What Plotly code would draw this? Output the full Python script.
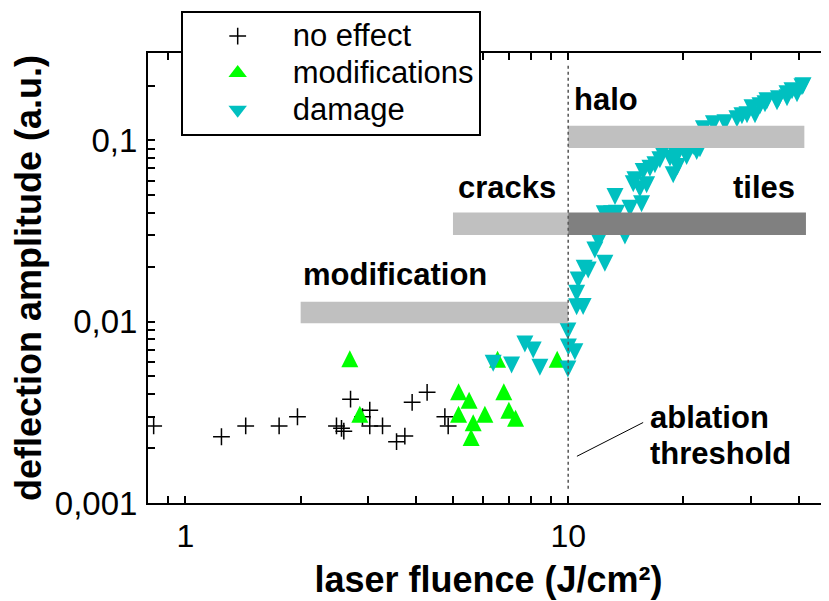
import math
import plotly.graph_objects as go

# ---------------- data ----------------
no_effect_x = [0.826, 1.242, 1.437, 1.757, 1.962, 2.481, 2.557, 2.593, 2.700, 2.901,
               3.031, 3.031, 3.273, 3.561, 3.743, 3.911, 4.280, 4.762, 4.858]
no_effect_y = [0.00266, 0.00232, 0.00266, 0.00266, 0.00299, 0.00266, 0.00258, 0.00249,
               0.00374, 0.00299, 0.00325, 0.00266, 0.00266, 0.00218, 0.00234, 0.00359,
               0.00408, 0.00299, 0.00266]

modif_x = [2.688, 2.855, 5.171, 5.511, 5.171, 5.646, 6.058, 5.578, 6.789, 6.998, 7.286, 6.539, 9.359]
modif_y = [0.00625, 0.00309, 0.00411, 0.00369, 0.00309, 0.00277, 0.00309, 0.00230,
           0.00411, 0.00325, 0.00293, 0.00620, 0.00620]

damage_x = [6.368, 7.114, 7.705, 8.100, 8.433, 9.98, 10.01, 10.41, 9.98, 10.52,
            10.94, 10.52, 10.62, 11.01, 11.28, 12.47, 11.74, 11.98, 12.23, 12.42,
            12.98, 13.38, 14.07, 14.50, 15.55, 13.25, 14.79, 15.39, 16.03, 14.94,
            15.70, 16.35, 16.85, 17.58, 18.45, 18.81, 19.29, 20.39, 21.66, 17.36,
            21.22, 21.87, 19.20,
            22.56, 23.96, 25.68, 27.60, 28.44, 30.21, 31.70, 33.06, 35.43, 37.29,
            38.43, 40.81,
            22.09, 29.32, 30.76, 32.67, 35.12, 37.29, 39.61, 41.06]
damage_y = [0.00589, 0.00577, 0.00753, 0.00698, 0.00560, 0.00888, 0.00725, 0.00683, 0.00548, 0.01210,
            0.01213, 0.01435, 0.01699, 0.01972, 0.01930, 0.02101, 0.02489, 0.02826, 0.03011, 0.03933,
            0.03933, 0.03968, 0.02973, 0.04229, 0.04467, 0.04900, 0.05759, 0.05405, 0.05686, 0.06058,
            0.06734, 0.07031, 0.07333, 0.08511, 0.07986, 0.06457, 0.07176, 0.08149, 0.08685, 0.07815,
            0.09254, 0.1008, 0.08149,
            0.1159, 0.1235, 0.1251, 0.1317, 0.1368, 0.1514, 0.1553, 0.1654, 0.1697, 0.1719,
            0.1878, 0.1977,
            0.0899, 0.1385, 0.1385, 0.1593, 0.1634, 0.1808, 0.1808, 0.2002]

# regime bands (fluence range, amplitude range)
band_names = ["modification", "cracks", "tiles", "halo"]
band_x0 = [2, 5, 10, 10]
band_x1 = [10, 10, 41.8, 41.4]
band_y0 = [0.0098, 0.0301, 0.0301, 0.0907]
band_y1 = [0.0129, 0.0400, 0.0400, 0.1204]

threshold_fluence = 10
threshold_span = [0.0012, 0.26]

x_tickvals = [0.9, 1, 2, 3, 4, 5, 6, 7, 8, 9, 10, 20, 30, 40]
x_ticktext = ["", "1", "", "", "", "", "", "", "", "", "10", "", "", ""]
y_tickvals = [0.001, 0.002, 0.003, 0.004, 0.005, 0.006, 0.007, 0.008, 0.009,
              0.01, 0.02, 0.03, 0.04, 0.05, 0.06, 0.07, 0.08, 0.09, 0.1, 0.2]
y_ticktext = ["0,001"] + [""] * 8 + ["0,01"] + [""] * 8 + ["0,1", ""]

series_names = ["no effect", "modifications", "damage"]

# ---------------- styles ----------------
FONT = "Liberation Sans, Arial, sans-serif"
band_colors = {"modification": "#c0c0c0", "cracks": "#c0c0c0", "tiles": "#808080", "halo": "#c0c0c0"}
GREEN = "#00ff00"
CYAN = "#00c0c0"
TRI = 17


def legend_label(s):
    return '<span style="font-size:31px">%s</span>' % s


fig = go.Figure()
fig.add_trace(go.Scatter(
    x=no_effect_x, y=no_effect_y, mode="markers", name=legend_label(series_names[0]),
    marker=dict(symbol="cross-thin", size=12, line=dict(color="black", width=1.5), color="black")))
fig.add_trace(go.Scatter(
    x=modif_x, y=modif_y, mode="markers", name=series_names[1], showlegend=False,
    marker=dict(symbol="arrow-down", angle=180, standoff=TRI / 2, size=TRI, color=GREEN,
                line=dict(width=0))))
fig.add_trace(go.Scatter(
    x=damage_x, y=damage_y, mode="markers", name=series_names[2], showlegend=False,
    marker=dict(symbol="arrow-down", standoff=TRI / 2, size=TRI, color=CYAN,
                line=dict(width=0))))
# legend entries for the triangle series
fig.add_trace(go.Scatter(x=[None], y=[None], mode="markers", name=legend_label(series_names[1]),
                         marker=dict(symbol="triangle-up", size=16, color=GREEN, line=dict(width=0))))
fig.add_trace(go.Scatter(x=[None], y=[None], mode="markers", name=legend_label(series_names[2]),
                         marker=dict(symbol="triangle-down", size=16, color=CYAN, line=dict(width=0))))

for name, x0, x1, y0, y1 in zip(band_names, band_x0, band_x1, band_y0, band_y1):
    fig.add_shape(type="rect", xref="x", yref="y", x0=x0, x1=x1, y0=y0, y1=y1,
                  fillcolor=band_colors[name], line=dict(width=0), layer="above")

fig.add_shape(type="line", xref="x", yref="y", x0=threshold_fluence, x1=threshold_fluence,
              y0=threshold_span[0], y1=threshold_span[1],
              line=dict(color="#555555", width=1.5, dash="dot"), layer="above")
# pointer for "ablation threshold"
fig.add_shape(type="line", xref="x", yref="y", x0=10.54, x1=15.7, y0=0.00181, y1=0.00278,
              line=dict(color="black", width=1), layer="above")

labels = [
    ("halo", 10.21, -0.776),
    ("cracks", 10 ** 0.707, -1.2617),
    ("tiles", 10 ** 1.425, -1.2617),
    ("modification", 10 ** 0.302, -1.742),
    ("ablation", 10 ** 1.208, -2.529),
    ("threshold", 10 ** 1.208, -2.725),
]
for txt, xv, ylog in labels:
    fig.add_annotation(x=math.log10(xv), y=ylog, xref="x", yref="y", text="<b>%s</b>" % txt,
                       showarrow=False, xanchor="left", yanchor="middle",
                       font=dict(family=FONT, size=31, color="black"))

# the page body has an 8px margin, so the figure is 8px smaller than the window
fig.update_layout(
    width=821, height=593,
    margin=dict(l=140, r=0, t=45, b=98, pad=0, autoexpand=False),
    paper_bgcolor="white", plot_bgcolor="white",
    font=dict(family=FONT, color="black"),
    showlegend=True,
    legend=dict(x=0.048, y=1.094, xanchor="left", yanchor="top",
                bgcolor="white", bordercolor="black", borderwidth=2,
                font=dict(family=FONT, size=26, color="black"), itemwidth=100),
    xaxis=dict(type="log", range=[-0.0978, 1.6814], showline=True, linecolor="black", linewidth=2,
               mirror="ticks", ticks="inside", ticklen=7, tickwidth=1.5, tickcolor="black",
               tickvals=x_tickvals, ticktext=x_ticktext, tickfont=dict(family=FONT, size=32),
               ticklabelstandoff=4, showgrid=False, zeroline=False,
               title=dict(text="<b>laser fluence (J/cm²)</b>", font=dict(family=FONT, size=36),
                          standoff=13)),
    yaxis=dict(type="log", range=[-3, -0.518], showline=True, linecolor="black", linewidth=2,
               ticks="inside", ticklen=7, tickwidth=1.5, tickcolor="black",
               tickvals=y_tickvals, ticktext=y_ticktext, tickfont=dict(family=FONT, size=33),
               ticklabelstandoff=2, showgrid=False, zeroline=False,
               title=dict(text="<b>deflection amplitude (a.u.)</b>", font=dict(family=FONT, size=36),
                          standoff=4)),
)

fig.write_html("out.html")
